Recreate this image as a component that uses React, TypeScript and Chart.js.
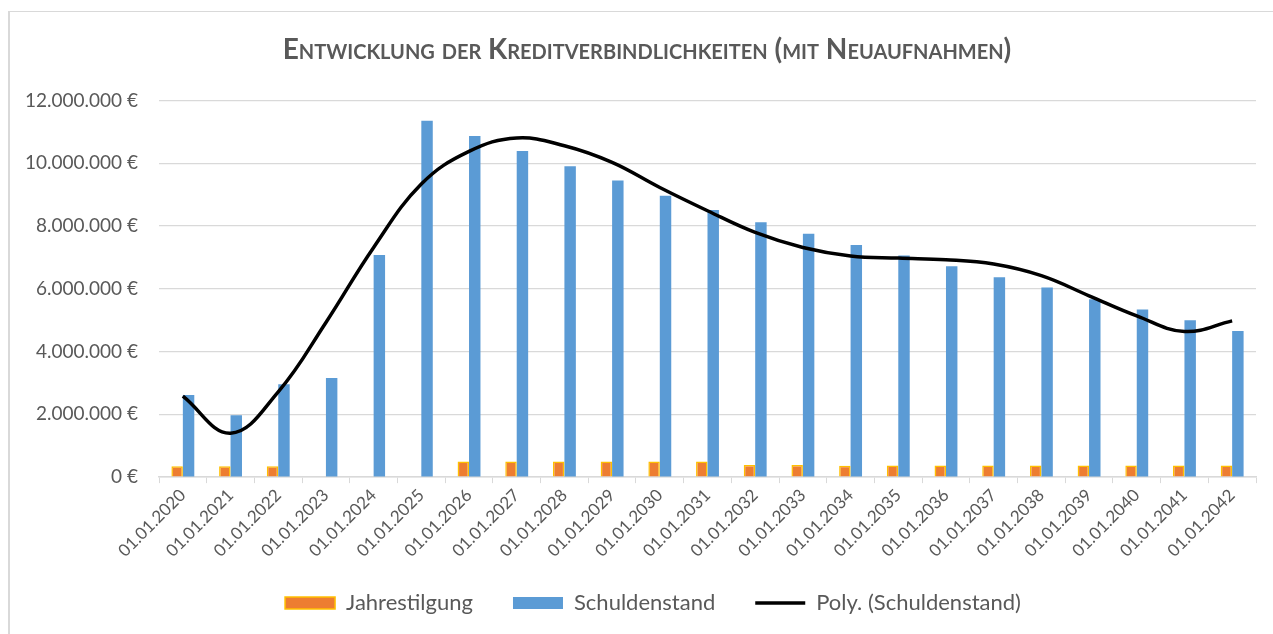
import React, { useEffect, useRef } from "react";
import { Chart, registerables } from "chart.js";

Chart.register(...registerables);

const categories = [
  "01.01.2020", "01.01.2021", "01.01.2022", "01.01.2023", "01.01.2024", "01.01.2025",
  "01.01.2026", "01.01.2027", "01.01.2028", "01.01.2029", "01.01.2030", "01.01.2031",
  "01.01.2032", "01.01.2033", "01.01.2034", "01.01.2035", "01.01.2036", "01.01.2037",
  "01.01.2038", "01.01.2039", "01.01.2040", "01.01.2041", "01.01.2042",
];

const jahrestilgung = [
  350000, 350000, 350000, -40000, -40000, -40000,
  500000, 500000, 500000, 500000, 500000, 500000,
  390000, 390000, 365000, 370000, 370000, 370000,
  370000, 370000, 370000, 370000, 370000,
];

const schuldenstand = [
  2620000, 1970000, 2960000, 3160000, 7080000, 11360000,
  10870000, 10390000, 9910000, 9450000, 8970000, 8510000,
  8120000, 7760000, 7400000, 7060000, 6720000, 6370000,
  6040000, 5670000, 5340000, 5000000, 4660000,
];

// Polynomial trend line of Schuldenstand at each category
const polyTrend = [
  2580000, 1400000, 2720000, 4930000, 7320000, 9340000,
  10380000, 10810000, 10560000, 10030000, 9230000, 8490000,
  7800000, 7320000, 7050000, 6980000, 6930000, 6790000,
  6420000, 5780000, 5140000, 4640000, 4980000,
];

const seriesNames = ["Jahrestilgung", "Schuldenstand", "Poly. (Schuldenstand)"];
const titleText = "Entwicklung der Kreditverbindlichkeiten (mit Neuaufnahmen)";

const FONT = "Lato, 'Open Sans', sans-serif";
const GRAY = "#595959";
const GRID = "#d9d9d9";

const fmtEuro = (v: number) =>
  String(Math.round(v)).replace(/\B(?=(\d{3})+(?!\d))/g, ".") + " €";

// nudge the title and legend boxes to the right, as in the original
const shiftBoxes = {
  id: "shiftBoxes",
  afterLayout(chart: any) {
    const t = chart.titleBlock;
    if (t) {
      t.left += 14;
      t.right += 14;
    }
    const l = chart.legend;
    if (l) {
      l.left += 20;
      l.right += 20;
    }
  },
};

export default function App() {
  const ref = useRef<HTMLCanvasElement | null>(null);

  useEffect(() => {
    if (!ref.current) return;
    const chart = new Chart(ref.current, {
      type: "bar",
      data: {
        labels: categories,
        datasets: [
          {
            type: "bar",
            label: seriesNames[0],
            data: jahrestilgung,
            backgroundColor: "#ED7D31",
            borderColor: "#FFC000",
            borderWidth: 1.5,
            pointStyle: "rect",
            order: 1,
          },
          {
            type: "bar",
            label: seriesNames[1],
            data: schuldenstand,
            backgroundColor: "#5B9BD5",
            borderColor: "#5B9BD5",
            borderWidth: 0,
            pointStyle: "rect",
            order: 1,
          },
          {
            type: "line",
            label: seriesNames[2],
            data: polyTrend,
            borderColor: "#000000",
            backgroundColor: "#000000",
            borderWidth: 3.5,
            pointRadius: 0,
            tension: 0.4,
            fill: false,
            pointStyle: "line",
            order: 0,
          } as any,
        ],
      },
      plugins: [shiftBoxes],
      options: {
        animation: false,
        responsive: true,
        maintainAspectRatio: false,
        datasets: {
          bar: { categoryPercentage: 0.48, barPercentage: 1.0 },
        } as any,
        layout: { padding: { left: 0, right: 17, top: 0, bottom: 10 } },
        plugins: {
          tooltip: { enabled: false },
          title: {
            display: true,
            text: titleText,
            color: GRAY,
            font: { family: FONT, size: 28, weight: "small-caps bold" as any, lineHeight: 1.2 },
            padding: { top: 21, bottom: 34 },
          },
          legend: {
            position: "bottom",
            labels: {
              color: GRAY,
              font: { family: FONT, size: 22 },
              usePointStyle: true,
              pointStyleWidth: 50,
              boxHeight: 12,
              padding: 40,
              sort: (a: any, b: any) => a.datasetIndex - b.datasetIndex,
            },
          },
        },
        scales: {
          x: {
            offset: true,
            grid: {
              display: true,
              drawOnChartArea: false,
              drawTicks: true,
              tickLength: 6,
              color: GRID,
              offset: true,
            },
            border: { display: true, color: GRID, width: 1.5 },
            ticks: {
              color: GRAY,
              font: { family: FONT, size: 17 },
              minRotation: 45,
              maxRotation: 45,
              autoSkip: false,
              padding: 2,
            },
            afterFit: (scale: any) => {
              scale.height -= 11;
              // let the rotated labels run past the (shortened) scale box
              scale._computeLabelArea = () => undefined;
            },
          },
          y: {
            min: 0,
            max: 12000000,
            grid: { color: GRID, lineWidth: 1.3, drawTicks: false },
            border: { display: false },
            ticks: {
              stepSize: 2000000,
              color: GRAY,
              font: { family: FONT, size: 19 },
              padding: 21,
              callback: (v: any) => fmtEuro(Number(v)),
            },
            afterFit: (scale: any) => {
              scale.width = 149;
            },
          },
        },
      },
    });
    return () => chart.destroy();
  }, []);

  return (
    <div
      style={{
        position: "absolute",
        left: 8,
        top: 11,
        width: 1265,
        height: 623,
        boxSizing: "border-box",
        borderLeft: `2px solid ${GRID}`,
        borderTop: `1px solid ${GRID}`,
        background: "#ffffff",
      }}
    >
      <canvas ref={ref} />
    </div>
  );
}
